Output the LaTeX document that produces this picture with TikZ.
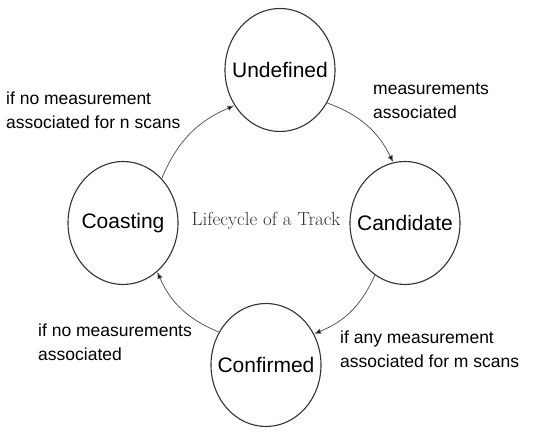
\documentclass[tikz,border=0pt]{standalone}
\usepackage{fontspec}
\setsansfont{Liberation Sans}
\usepackage{tikz}
\usetikzlibrary{arrows.meta,shapes.geometric}
\tikzset{
  state/.style={draw=black!80, line width=1.1pt, ellipse, minimum width=110pt, minimum height=123pt, inner xsep=-12pt, inner ysep=0pt, font=\sffamily\fontsize{21}{25}\selectfont},
  trans/.style={draw=black!65, line width=0.8pt, -{Latex[length=7pt,width=5.5pt,fill=black]}},
  note/.style={align=left, anchor=west, inner sep=0pt, font=\sffamily\fontsize{17.5}{24}\selectfont}
}
\begin{document}
\begin{tikzpicture}[x=1pt,y=1pt]
  \useasboundingbox (0,0) rectangle (550,435);
  \node[state] (undef) at (280,365) {Undefined}; \node[state] (cand) at (405,212) {Candidate};
  \node[state] (conf) at (266,70) {Confirmed}; \node[state] (coast) at (123,212) {Coasting};
  \node[text=black!80, font=\fontsize{19}{22}\selectfont] (title) at (266,214) {Lifecycle of a Track};
  \draw[trans] (undef.-35) to[bend left=22] (cand.101);
  \draw[trans] (cand.-120) to[bend left=22] (conf.33);
  \draw[trans] (conf.145) to[bend left=22] (coast.-55);
  \draw[trans] (coast.49) to[bend left=22] (undef.-142);
  \node[note] (lblcu) at (6,325) {if no measurement\\associated for n scans};
  \node[note] (lbluc) at (373,334) {measurements\\associated};
  \node[note] (lblcc) at (38,93) {if no measurements\\associated};
  \node[note] (lblcf) at (340,86) {if any measurement\\associated for m scans};
\end{tikzpicture}
\end{document}
